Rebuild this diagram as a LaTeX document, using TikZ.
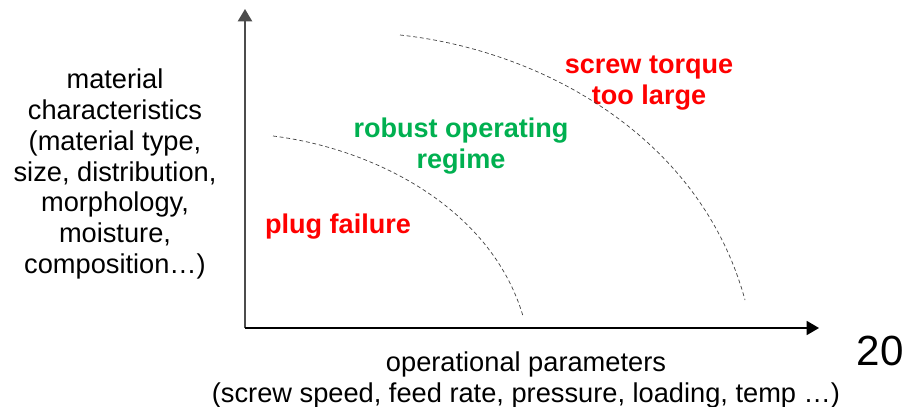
\documentclass[tikz,border=0pt]{standalone}
\usepackage{fontspec}
\setmainfont{Liberation Sans}
\usepackage{xcolor}
\usetikzlibrary{positioning,arrows.meta}
\definecolor{failred}{HTML}{FF0000}
\definecolor{okgreen}{HTML}{00B050}
\tikzset{
    axislabel/.style={align=center, font=\fontsize{15.5}{17.6}\selectfont},
    regime/.style={align=center, font=\fontsize{15.4}{17.2}\selectfont\bfseries},
    boundary/.style={dashed, dash pattern=on 2.2pt off 1.6pt, thin, black!75},
}
\begin{document}
\begin{tikzpicture}[x=0.02cm, y=-0.02cm, >={Triangle[length=7pt, width=8pt]}]
                \useasboundingbox (0,0) rectangle (920,406);

                % Nodes
                \coordinate (o) at (245,328);
                \coordinate (ytop) at (245,9);
                \coordinate (xend) at (819,328);
                \node at (115,174) (ylab) [axislabel] {material\\characteristics\\(material type,\\size, distribution,\\morphology,\\moisture,\\composition\dots)};
                \node at (526,380) (xlab) [axislabel] {operational parameters\\(screw speed, feed rate, pressure, loading, temp \dots)};
                \node at (338,227) (plug) [regime, text=failred] {plug failure};
                \node at (461,146) (robust) [regime, text=okgreen] {robust operating\\regime};
                \node at (649,83) (torque) [regime, text=failred] {screw torque\\too large};
                \node at (880,351) (page) [font=\fontsize{24}{28}\selectfont] {20};

                % Arrows
                \draw[->, line width=1.2pt, black!70] (o) -- (ytop);
                \draw[->, line width=0.8pt] (o) -- (xend);

                % Boundaries between the regimes
                \coordinate (a1) at (273,136);
                \coordinate (a2) at (523,316);
                \coordinate (b1) at (400,35);
                \coordinate (b2) at (745,300);
                \draw[boundary] (a1) .. controls (370,148) and (490,205) .. (a2);
                \draw[boundary] (b1) .. controls (540,50) and (700,135) .. (b2);

            \end{tikzpicture}
\end{document}
